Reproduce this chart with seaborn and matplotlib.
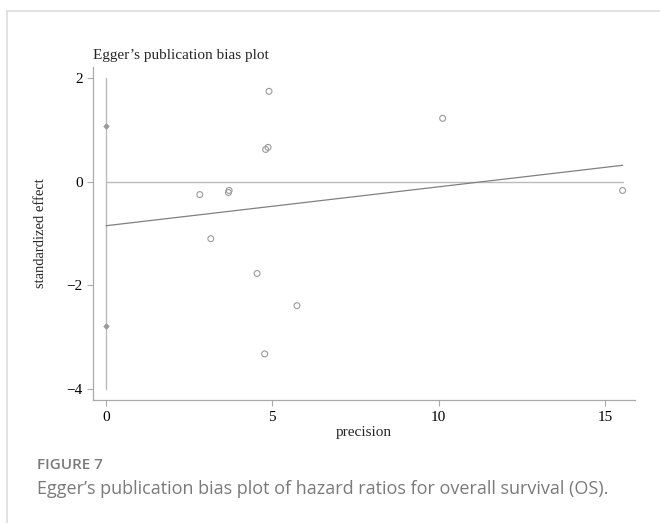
import numpy as np
import pandas as pd
import matplotlib.pyplot as plt
import matplotlib.lines as mlines
import seaborn as sns

precision = [2.82, 3.15, 3.70, 3.68, 4.80, 4.87, 4.90, 4.54, 5.74, 4.77, 10.12, 15.53]
std_effect = [-0.25, -1.10, -0.17, -0.21, 0.62, 0.66, 1.74, -1.77, -2.39, -3.32, 1.22, -0.17]

# intervalo del intercepto (sobre precision = 0)
ci_precision = [0.0, 0.0]
ci_effect = [1.07, -2.78]

# recta de regresión de Egger
intercept = -0.85
slope = 0.075

x_ticks = [0, 5, 10, 15]
y_ticks = [-4, -2, 0, 2]

sns.set_style("ticks")
plt.rcParams['font.family'] = ['Liberation Serif', 'DejaVu Serif']

data = pd.DataFrame({'precision': precision, 'effect': std_effect})
ci = pd.DataFrame({'precision': ci_precision, 'effect': ci_effect})

fig = plt.figure(figsize=(6.6, 5.23), dpi=100)
ax = fig.add_axes([0.141, 0.235, 0.821, 0.637])

gray = '#9a9a9a'
x_max = max(precision)

# línea vertical del intervalo y línea cero
ax.plot([0, 0], [2, -4], color='#bbbbbb', lw=1.0, zorder=1)
ax.plot([0, x_max], [0, 0], color='#bbbbbb', lw=1.0, zorder=1)

# recta de regresión
fit = pd.DataFrame({'precision': [0, x_max]})
fit['effect'] = intercept + slope * fit['precision']
sns.lineplot(x='precision', y='effect', data=fit, ax=ax, color='#808080', lw=0.9, zorder=2)

sns.scatterplot(x='precision', y='effect', data=data, ax=ax, marker='o', s=18,
                facecolor='none', edgecolor=gray, linewidth=0.8, zorder=3)
sns.scatterplot(x='precision', y='effect', data=ci, ax=ax, marker='D', s=8,
                color=gray, edgecolor=gray, linewidth=0.5, zorder=3)

ax.set_xlim(-0.39, 15.9)
ax.set_ylim(-4.21, 2.21)
ax.set_xticks(x_ticks)
ax.set_yticks(y_ticks)
ax.set_yticklabels(['\u22124', '\u22122', '0', '2'])
ax.tick_params(axis='both', labelsize=11, colors='#aaaaaa', labelcolor='black', length=4, width=0.8)
for side in ['top', 'right']:
    ax.spines[side].set_visible(False)
for side in ['left', 'bottom']:
    ax.spines[side].set_color('#aaaaaa')
    ax.spines[side].set_linewidth(0.9)

ax.set_xlabel('precision', fontsize=11, labelpad=2)
ax.set_ylabel('standardized effect', fontsize=10.5, labelpad=14)
ax.set_title('Egger\u2019s publication bias plot', fontsize=11, loc='left', pad=6)

# marco de la figura
fig.add_artist(mlines.Line2D([7 / 660, 1], [1 - 10.5 / 523, 1 - 10.5 / 523], color='#dddddd', lw=1.2))
fig.add_artist(mlines.Line2D([7 / 660, 7 / 660], [0, 1 - 10.5 / 523], color='#dddddd', lw=1.2))

fig.text(37 / 660, 1 - 465 / 523, 'FIGURE 7', family=['Open Sans', 'DejaVu Sans'],
         fontsize=11, fontweight='semibold', color='#7a7a7a', va='center')
fig.text(37 / 660, 1 - 489 / 523,
         'Egger\u2019s publication bias plot of hazard ratios for overall survival (OS).',
         family=['Open Sans', 'DejaVu Sans'], fontsize=13, color='#7a7a7a', va='center')

plt.savefig('out.png', dpi=100)
